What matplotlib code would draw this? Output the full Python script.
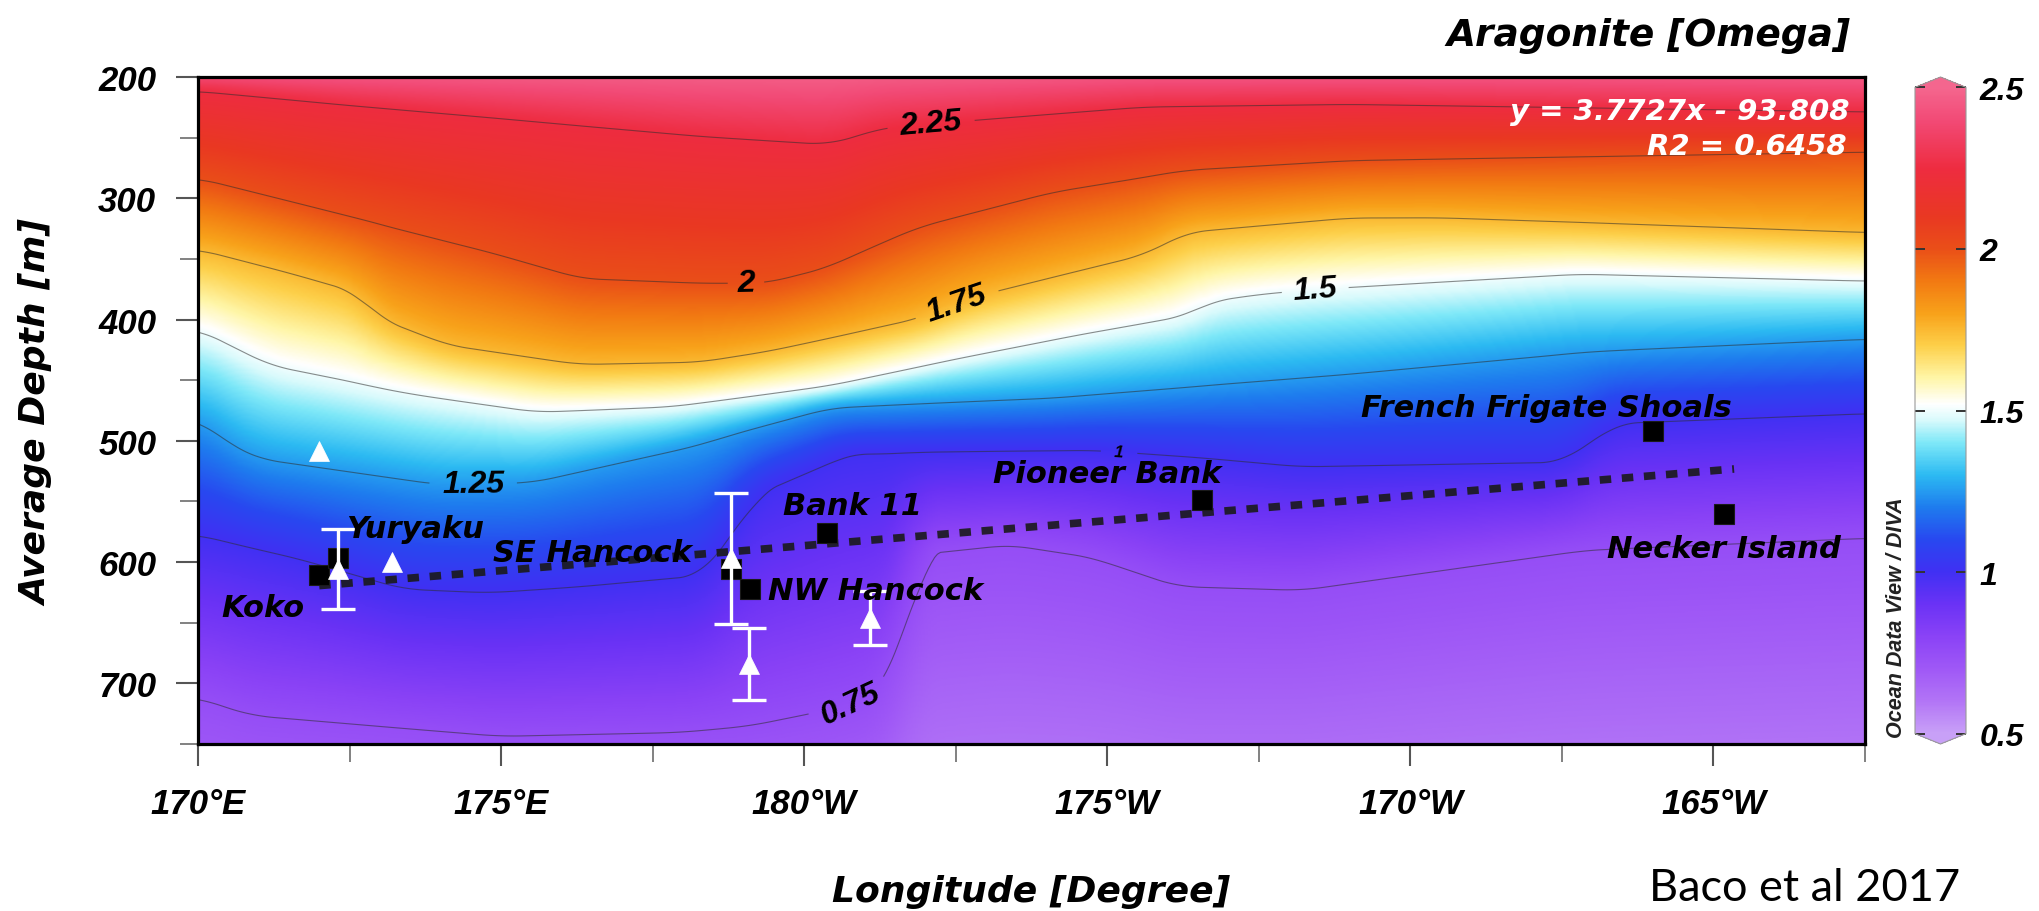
import numpy as np
import matplotlib
matplotlib.use("Agg")
import matplotlib.pyplot as plt
from matplotlib.colors import LinearSegmentedColormap, Normalize
from matplotlib import font_manager

# ---------------------------------------------------------------- data
# Isolines of aragonite saturation (Omega) read off the section:
# longitude in degrees east (180 = 180W, 195 = 165W), depth in m
iso_levels = [2.5, 2.25, 2.0, 1.75, 1.5, 1.25, 1.0, 0.75, 0.5]
c250_lon = [170, 197.5]
c250_dep = [192, 192]
c225_lon = [170, 172.5, 175, 178.3, 180.4, 181.3, 182.8, 185.6, 189.0, 197.5]
c225_dep = [210, 222, 233, 248, 255, 241, 235, 224, 222, 229]
c200_lon = [170, 172.6, 174.8, 176.3, 178.3, 179.4, 180.4, 181.0, 181.9, 184.1, 186.3, 189.0, 197.5]
c200_dep = [284, 317, 345, 367, 371, 371, 358, 344, 324, 295, 277, 269, 261]
c175_lon = [170, 171.5, 172.6, 173.0, 174.1, 176.3, 178.3, 179.4, 181.9, 182.8, 185.6, 186.3, 189.0, 190.5, 197.5]
c175_dep = [342, 361, 377, 400, 422, 438, 436, 427, 400, 382, 347, 328, 316, 316, 329]
c150_lon = [170, 171.2, 173.4, 175.6, 177.8, 180.4, 182.3, 184.5, 186.3, 186.7, 187.5, 188.4, 192.8, 197.5]
c150_dep = [408, 438, 460, 476, 472, 456, 435, 413, 397, 385, 379, 375, 362, 368]
c125_lon = [170, 170.6, 171.0, 174.0, 175.5, 178.0, 180.4, 184.1, 189.0, 192.8, 197.5]
c125_dep = [482, 505, 515, 536, 534, 505, 472, 465, 445, 427, 416]
c100_lon = [170, 171.7, 173.4, 174.8, 176.3, 178.3, 179.2, 180.7, 184.8, 186.5, 188.2, 192.5, 193.4, 197.5]
c100_dep = [577, 597, 622, 625, 620, 611, 542, 509, 507, 513, 521, 518, 485, 477]
c075_lon = [170, 170.9, 175.0, 177.9, 179.1, 180.2, 180.9, 181.3, 181.6, 181.9, 183.4, 184.8, 186.2, 188.2, 192.8, 197.5]
c075_dep = [711, 726, 743, 740, 735, 724, 716, 705, 660, 592, 584, 595, 619, 622, 589, 579]
c050_lon = [170, 180, 182.5, 187.5, 197.5]
c050_dep = [950, 930, 900, 890, 880]

# Sites: mean depth of sampled sites (black squares)
site_names = ["Koko", "Yuryaku", "SE Hancock", "NW Hancock", "Bank 11",
              "Pioneer Bank", "French Frigate Shoals", "Necker Island"]
site_lon = [172.0, 172.31, 178.79, 179.11, 180.37, 186.57, 194.0, 195.18]
site_dep = [611, 597, 606, 622, 576, 549, 492, 560]

# White triangles with error bars
tri_lon = [172.0, 172.31, 173.2, 178.8, 179.09, 181.09]
tri_dep = [508, 606, 600, 597, 684, 646]
tri_err = [0, 33, 0, 54, 30, 22]

# Regression trend line end points
trend_lon = [172.0, 195.34]
trend_dep = [619.4, 523.2]

# Axis ticks
xticks = [170, 175, 180, 185, 190, 195]
xtick_labels = ["170°E", "175°E", "180°W", "175°W", "170°W", "165°W"]
yticks = [200, 300, 400, 500, 600, 700]
cb_ticks = [0.5, 1.0, 1.5, 2.0, 2.5]
cb_tick_labels = ["0.5", "1", "1.5", "2", "2.5"]

# Colour scale (Ocean Data View style)
cmap_vals = [0.5, 0.6, 0.7, 0.8, 0.9, 1.0, 1.1, 1.2, 1.3, 1.4, 1.47, 1.52, 1.6,
             1.7, 1.8, 1.9, 2.0, 2.1, 2.25, 2.4, 2.5]
cmap_cols = ['#c8a0f7', '#b274f6', '#9f58f6', '#8a42f6', '#6a32f5', '#4030f3',
             '#2848f0', '#1e7cee', '#2cbaf2', '#7ee8f8', '#d8fafc', '#ffffff',
             '#fff6a8', '#fdd04a', '#f8a21a', '#f27a12', '#ea4f18', '#e93822',
             '#ee2c40', '#f24a76', '#f4668e']

contour_levels = [0.75, 1.0, 1.25, 1.5, 1.75, 2.0, 2.25]
contour_fmt = {2.25: '2.25', 2.0: '2', 1.75: '1.75', 1.5: '1.5',
               1.25: '1.25', 1.0: '1', 0.75: '0.75'}

# ---------------------------------------------------------------- layout
W, H = 2039, 912
fig = plt.figure(figsize=(W / 100, H / 100), dpi=100)
ax = fig.add_axes([198 / W, 1 - 745 / H, 1667 / W, 667 / H])
cax = fig.add_axes([1915 / W, 1 - 745 / H, 51 / W, 667 / H])

names = {f.name for f in font_manager.fontManager.ttflist}
TICKF = ['Liberation Sans', 'DejaVu Sans'] if 'Liberation Sans' in names else ['DejaVu Sans']
NARROW = (['Liberation Sans Narrow'] if 'Liberation Sans Narrow' in names else []) + TICKF
TEXTF = ['DejaVu Sans']
LATO = ['Lato', 'DejaVu Sans'] if 'Lato' in names else ['DejaVu Sans']

# ---------------------------------------------------------------- field
lon_f = np.linspace(170, 197.5, 551)
dep_f = np.linspace(200, 750, 551)
iso = [(c250_lon, c250_dep), (c225_lon, c225_dep), (c200_lon, c200_dep),
       (c175_lon, c175_dep), (c150_lon, c150_dep), (c125_lon, c125_dep),
       (c100_lon, c100_dep), (c075_lon, c075_dep), (c050_lon, c050_dep)]
D = np.array([np.interp(lon_f, lo, de) for lo, de in iso])
Z = np.empty((dep_f.size, lon_f.size))
for j in range(lon_f.size):
    Z[:, j] = np.interp(dep_f, D[:, j], iso_levels)


def smooth(a, n, axis):
    k = np.ones(n) / n
    pad = [(n // 2, n // 2) if i == axis else (0, 0) for i in range(a.ndim)]
    ap = np.pad(a, pad, mode='edge')
    return np.apply_along_axis(lambda m: np.convolve(m, k, mode='valid'), axis, ap)


Z = smooth(smooth(Z, 11, 0), 15, 1)

cmap = LinearSegmentedColormap.from_list(
    'odv', [((v - 0.5) / 2.0, c) for v, c in zip(cmap_vals, cmap_cols)], N=512)
cmap.set_over(cmap_cols[-1])
cmap.set_under(cmap_cols[0])
norm = Normalize(0.5, 2.5)

im = ax.imshow(Z, extent=[170, 197.5, 750, 200], origin='upper', aspect='auto',
               cmap=cmap, norm=norm, interpolation='bilinear', zorder=0)
ax.set_xlim(170, 197.5)
ax.set_ylim(750, 200)

cs = ax.contour(lon_f, dep_f, Z, levels=contour_levels, colors='#2e2e2e',
                linewidths=0.8, alpha=0.55, zorder=1)
label_xy = [(182.09, 237), (179.04, 371), (182.54, 390), (188.43, 375),
            (174.54, 537), (185.2, 506), (180.76, 715)]
labels = ax.clabel(cs, fmt=contour_fmt, manual=label_xy, inline=True,
                   fontsize=23, inline_spacing=8, colors='k')
for t in labels:
    t.set_alpha(1.0)
    t.set_color('black')
    t.set_fontweight('bold')
    t.set_fontstyle('italic')
    t.set_family(NARROW)
    if t.get_text() == '1':
        t.set_fontsize(12)

# trend line
ax.plot(trend_lon, trend_dep, color='#1a1a1a', lw=5.5, linestyle=(0, (1.5, 1.4)),
        dash_capstyle='butt', alpha=0.9, zorder=3)

# squares
ax.plot(site_lon, site_dep, 's', ms=14, mfc='black', mec='#1a1a1a', mew=0.8,
        zorder=4, linestyle='none')

# triangles with error bars
tri_lon_a = np.array(tri_lon)
tri_dep_a = np.array(tri_dep)
tri_err_a = np.array(tri_err, dtype=float)
has = tri_err_a > 0
ax.errorbar(tri_lon_a[has], tri_dep_a[has], yerr=tri_err_a[has], fmt='none',
            ecolor='white', elinewidth=2.4, capsize=12, capthick=2.4, zorder=5)
ax.plot(tri_lon, tri_dep, '^', ms=15, mfc='white', mec='white', mew=0.5,
        linestyle='none', zorder=6)

# site labels (left / baseline anchored)
label_pos = {"Koko": (170.38, 644.5), "Yuryaku": (172.44, 579.6),
             "SE Hancock": (174.87, 599.1), "NW Hancock": (179.40, 630.4),
             "Bank 11": (179.65, 560.3), "Pioneer Bank": (183.11, 534.0),
             "French Frigate Shoals": (189.19, 479.6), "Necker Island": (193.24, 595.8)}
for name in site_names:
    x, y = label_pos[name]
    ax.text(x, y, name, ha='left', va='baseline', fontsize=22, fontweight='bold',
            fontstyle='italic', family=TEXTF, color='black', zorder=7)

# regression text
ax.text(0.991, 0.937, 'y = 3.7727x - 93.808', transform=ax.transAxes, ha='right',
        va='baseline', fontsize=21, fontweight='bold', fontstyle='italic',
        family=TEXTF, color='white', zorder=7)
ax.text(0.989, 0.885, 'R2 = 0.6458', transform=ax.transAxes, ha='right',
        va='baseline', fontsize=21, fontweight='bold', fontstyle='italic',
        family=TEXTF, color='white', zorder=7)

# axes styling
tickfont = dict(fontsize=25, fontweight='bold', fontstyle='italic', family=TICKF)
ax.set_xticks(xticks, xtick_labels, **tickfont)
ax.set_xticks(np.arange(172.5, 197.6, 5), minor=True)
ax.set_yticks(yticks, [str(v) for v in yticks], **tickfont)
ax.set_yticks(np.arange(250, 751, 100), minor=True)
ax.tick_params(which='major', direction='out', length=16, width=1.5, color='#555555')
ax.tick_params(which='minor', direction='out', length=13, width=1.3, color='#777777')
ax.tick_params(axis='x', which='major', pad=15)
ax.tick_params(axis='y', which='major', pad=14)
for s in ax.spines.values():
    s.set_linewidth(2.3)
    s.set_color('black')

labfont = dict(fontsize=26, fontweight='bold', fontstyle='italic', family=TEXTF)
ax.set_xlabel('Longitude [Degree]', **labfont)
ax.xaxis.set_label_coords(0.5, -(902 - 745) / 667)
ax.xaxis.label.set_va('baseline')
ax.set_ylabel('Average Depth [m]', **labfont)
ax.yaxis.set_label_coords(-(198 - 54) / 1667, (745 - 413) / 667)
ax.yaxis.label.set_va('bottom')

# colorbar
cb = fig.colorbar(im, cax=cax, extend='both', extendfrac=0.016, ticks=cb_ticks)
cb.ax.set_yticklabels(cb_tick_labels, fontsize=23, fontweight='bold',
                      fontstyle='italic', family=TICKF)
cb.ax.tick_params(direction='in', length=7, width=1.4, color='#333333',
                  left=True, right=True, pad=10)
cb.outline.set_linewidth(0.8)
cb.outline.set_edgecolor('#999999')

fig.text(1902 / W, 1 - 738 / H, 'Ocean Data View / DIVA', rotation=90,
         rotation_mode='anchor', ha='left', va='baseline', fontsize=15.5,
         fontweight='bold', fontstyle='italic', family=TICKF, color='#222222')

fig.text(1850 / W, 1 - 46 / H, 'Aragonite [Omega]', ha='right', va='baseline',
         fontsize=27, fontweight='bold', fontstyle='italic', family=TEXTF)

fig.text(1960 / W, 1 - 901 / H, 'Baco et al 2017', ha='right', va='baseline',
         fontsize=32.5, family=LATO, color='black')

fig.savefig('out.png', dpi=100)
